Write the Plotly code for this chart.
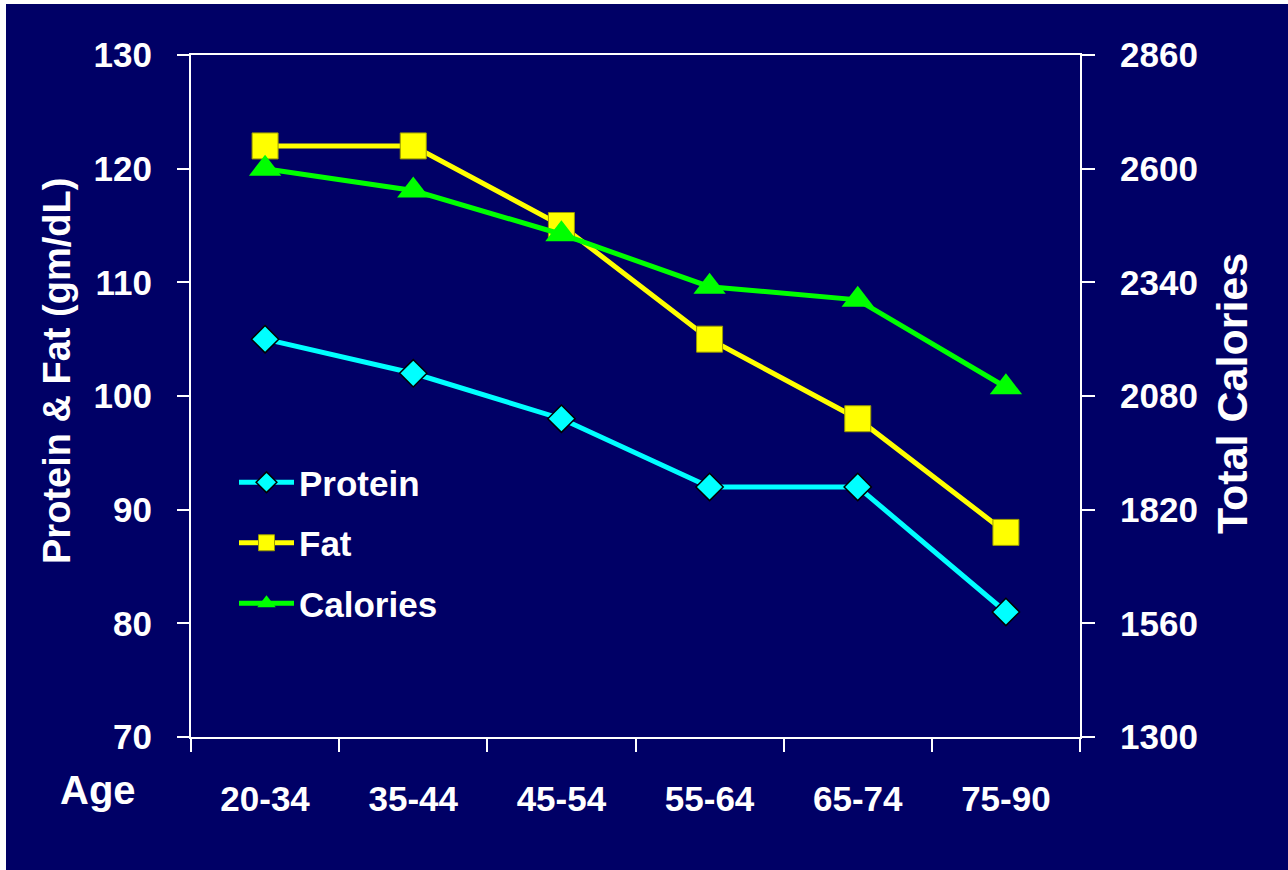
import plotly.graph_objects as go

# Age groups and intake values
age_groups = ["20-34", "35-44", "45-54", "55-64", "65-74", "75-90"]
protein = [105, 102, 98, 92, 92, 81]
fat = [122, 122, 115, 105, 98, 88]
calories = [2600, 2550, 2450, 2330, 2300, 2100]

left_ticks = [70, 80, 90, 100, 110, 120, 130]
right_ticks = [1300, 1560, 1820, 2080, 2340, 2600, 2860]

NAVY = "#000066"
FONT = "Liberation Sans, Arial, sans-serif"

W, H = 1288, 870
L, R, T, B = 191, 208, 55, 133
PW, PH = W - L - R, H - T - B


def px_x(px):
    return (px - L) / PW


def px_y(py):
    return (H - B - py) / PH


fig = go.Figure()

fig.add_trace(go.Scatter(
    x=age_groups, y=protein, name="Protein", mode="lines+markers",
    legendgroup="p",
    line=dict(color="#00FFFF", width=5),
    marker=dict(symbol="diamond", size=21, color="#00FFFF",
                line=dict(color="black", width=1.5)),
))
fig.add_trace(go.Scatter(
    x=age_groups, y=fat, name="Fat", mode="lines+markers",
    legendgroup="f",
    line=dict(color="#FFFF00", width=5),
    marker=dict(symbol="square", size=26, color="#FFFF00",
                line=dict(color="#9a9a00", width=1)),
))
fig.add_trace(go.Scatter(
    x=age_groups, y=calories, name="Calories", mode="lines+markers",
    legendgroup="c", yaxis="y2",
    line=dict(color="#00FF00", width=5),
    marker=dict(symbol="triangle-up", size=28, color="#00FF00",
                line=dict(width=0)),
))

tick_font = dict(family=FONT, size=35, color="white", weight="bold")

fig.update_layout(
    width=W, height=H,
    margin=dict(l=L, r=R, t=T, b=B, pad=0),
    paper_bgcolor="white",
    plot_bgcolor=NAVY,
    showlegend=True,
    legend=dict(
        x=px_x(234), y=px_y(453), xanchor="left", yanchor="top",
        bgcolor="rgba(0,0,0,0)", font=dict(family=FONT, size=35, color="white", weight="bold"),
        traceorder="grouped", tracegroupgap=12, itemwidth=55,
    ),
    xaxis=dict(
        type="category", categoryorder="array", categoryarray=age_groups,
        range=[-0.5, 5.5],
        showline=True, linecolor="white", linewidth=2, mirror=True,
        ticks="outside", tickson="boundaries", ticklen=13, tickwidth=2, tickcolor="white",
        tickfont=tick_font, ticklabelstandoff=30,
        showgrid=False, zeroline=False, fixedrange=True,
    ),
    yaxis=dict(
        range=[70, 130], tickvals=left_ticks,
        showline=True, linecolor="white", linewidth=2,
        ticks="outside", ticklen=12, tickwidth=2, tickcolor="white",
        tickfont=tick_font, ticklabelstandoff=18,
        showgrid=False, zeroline=False,
    ),
    yaxis2=dict(
        range=[1300, 2860], tickvals=right_ticks,
        overlaying="y", side="right", anchor="x",
        showline=True, linecolor="white", linewidth=2,
        ticks="outside", ticklen=13, tickwidth=2, tickcolor="white",
        tickfont=tick_font, ticklabelstandoff=18,
        showgrid=False, zeroline=False,
    ),
    # inward half of the crossing ticks on the right axis
    yaxis3=dict(
        range=[1300, 2860], tickvals=right_ticks,
        overlaying="y", side="right", anchor="x",
        ticks="inside", ticklen=12, tickwidth=2, tickcolor="white",
        showticklabels=False, showgrid=False, zeroline=False, showline=False,
    ),
    shapes=[dict(
        type="rect", xref="paper", yref="paper", layer="below",
        x0=px_x(6), x1=px_x(W + 10), y0=px_y(H + 10), y1=px_y(4),
        fillcolor=NAVY, line=dict(width=0),
    )],
    annotations=[
        dict(text="Protein & Fat (gm/dL)", textangle=-90, showarrow=False,
             xref="paper", yref="paper", x=px_x(57), y=px_y(371),
             xanchor="center", yanchor="middle",
             font=dict(family=FONT, size=38, color="white", weight="bold")),
        dict(text="Total Calories", textangle=-90, showarrow=False,
             xref="paper", yref="paper", x=px_x(1232), y=px_y(394),
             xanchor="center", yanchor="middle",
             font=dict(family=FONT, size=43, color="white", weight="bold")),
        dict(text="Age", showarrow=False,
             xref="paper", yref="paper", x=px_x(98), y=px_y(790),
             xanchor="center", yanchor="middle",
             font=dict(family=FONT, size=40, color="white", weight="bold")),
    ],
)

fig.write_html("out.html")
